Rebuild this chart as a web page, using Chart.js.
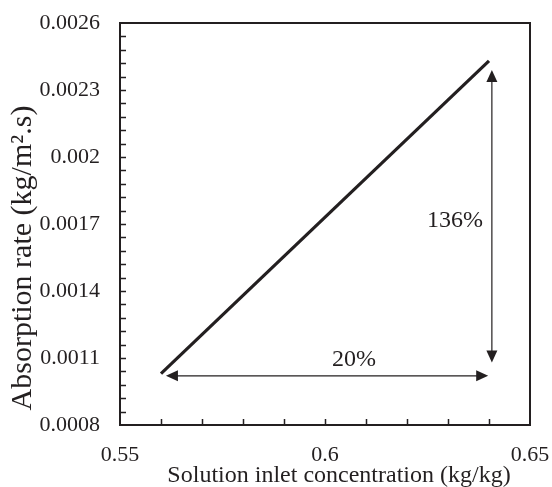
<!DOCTYPE html>
<html>
<head>
<meta charset="utf-8">
<script src="https://cdn.jsdelivr.net/npm/chart.js@4"></script>
<style>
  body { margin: 0; background: #fff; }
</style>
</head>
<body>
<canvas id="chart" width="552" height="487"></canvas>
<script>
// data
const concentration = [0.56, 0.64];
const absorptionRate = [0.00103, 0.00243];
const xTickValues = [0.55, 0.6, 0.65];
const yTickValues = [0.0008, 0.0011, 0.0014, 0.0017, 0.002, 0.0023, 0.0026];
// arrows and their labels (data coords, labels at baseline)
const hArrowX = [0.5612, 0.6398];
const hArrowY = 0.00102;
const vArrowX = 0.6407;
const vArrowY = [0.00108, 0.00239];
const hLabel = { text: '20%', x: 0.6071, y: 0.001064 };
const vLabel = { text: '136%', x: 0.6317, y: 0.001687 };

const ink = '#231f20';
const serif = '"Liberation Serif", "Times New Roman", serif';

function arrowHead(ctx, x, y, dx, dy) {
  // tip at (x,y), pointing along (dx,dy)
  const len = 12, half = 5.5;
  const px = -dy, py = dx;
  ctx.beginPath();
  ctx.moveTo(x, y);
  ctx.lineTo(x - dx * len + px * half, y - dy * len + py * half);
  ctx.lineTo(x - dx * len - px * half, y - dy * len - py * half);
  ctx.closePath();
  ctx.fill();
}

const decorations = {
  id: 'decorations',
  afterDraw(chart) {
    const ctx = chart.ctx;
    const xs = chart.scales.x, ys = chart.scales.y;
    const a = chart.chartArea;
    ctx.save();
    ctx.strokeStyle = ink;
    ctx.fillStyle = ink;

    // frame
    ctx.lineWidth = 2;
    ctx.strokeRect(a.left, a.top, a.right - a.left, a.bottom - a.top);

    // inside ticks
    ctx.lineWidth = 1.5;
    ctx.beginPath();
    for (let i = 1; i < 10; i++) {
      const px = Math.round(xs.getPixelForValue(0.55 + i * 0.01)) + 0.5;
      ctx.moveTo(px, a.bottom);
      ctx.lineTo(px, a.bottom - 6);
    }
    for (let i = 1; i < 30; i++) {
      const py = Math.round(ys.getPixelForValue(0.0008 + i * 0.00006)) + 0.5;
      ctx.moveTo(a.left, py);
      ctx.lineTo(a.left + 6, py);
    }
    ctx.stroke();

    // horizontal arrow
    const hx0 = xs.getPixelForValue(hArrowX[0]);
    const hx1 = xs.getPixelForValue(hArrowX[1]);
    const hy = ys.getPixelForValue(hArrowY);
    ctx.lineWidth = 1.2;
    ctx.beginPath();
    ctx.moveTo(hx0 + 8, hy);
    ctx.lineTo(hx1 - 8, hy);
    ctx.stroke();
    arrowHead(ctx, hx0, hy, -1, 0);
    arrowHead(ctx, hx1, hy, 1, 0);

    // vertical arrow
    const vx = xs.getPixelForValue(vArrowX);
    const vy0 = ys.getPixelForValue(vArrowY[0]);
    const vy1 = ys.getPixelForValue(vArrowY[1]);
    ctx.beginPath();
    ctx.moveTo(vx, vy0 - 8);
    ctx.lineTo(vx, vy1 + 8);
    ctx.stroke();
    arrowHead(ctx, vx, vy0, 0, 1);
    arrowHead(ctx, vx, vy1, 0, -1);

    // labels
    ctx.font = '24px ' + serif;
    ctx.textAlign = 'center';
    ctx.textBaseline = 'alphabetic';
    ctx.fillText(hLabel.text, xs.getPixelForValue(hLabel.x), ys.getPixelForValue(hLabel.y));
    ctx.fillText(vLabel.text, xs.getPixelForValue(vLabel.x), ys.getPixelForValue(vLabel.y));

    // axis titles
    ctx.fillText('Solution inlet concentration (kg/kg)', 339, 482);
    ctx.font = '30px ' + serif;
    ctx.translate(31, 258);
    ctx.rotate(-Math.PI / 2);
    ctx.fillText('Absorption rate (kg/m\u00b2.s)', 0, 0);
    ctx.restore();
  }
};

const noPad = s => { s.paddingLeft = 0; s.paddingRight = 0; s.paddingTop = 0; s.paddingBottom = 0; };

new Chart(document.getElementById('chart'), {
  type: 'line',
  data: {
    datasets: [{
      data: concentration.map((c, i) => ({ x: c, y: absorptionRate[i] })),
      borderColor: ink,
      borderWidth: 3.2,
      pointRadius: 0,
      fill: false,
      tension: 0
    }]
  },
  options: {
    responsive: false,
    animation: false,
    layout: { padding: { left: 0, right: 22, top: 23, bottom: 0 } },
    plugins: { legend: { display: false }, tooltip: { enabled: false } },
    scales: {
      x: {
        type: 'linear',
        min: 0.55,
        max: 0.65,
        afterBuildTicks: s => { s.ticks = xTickValues.map(v => ({ value: v })); },
        afterFit: s => { s.height = 62; noPad(s); },
        grid: { display: false, drawTicks: false },
        border: { display: false },
        ticks: {
          color: ink,
          font: { family: serif, size: 22 },
          padding: 17,
          maxRotation: 0,
          callback: v => String(Number(v.toFixed(2)))
        }
      },
      y: {
        min: 0.0008,
        max: 0.0026,
        afterBuildTicks: s => { s.ticks = yTickValues.map(v => ({ value: v })); },
        afterFit: s => { s.width = 120; noPad(s); },
        grid: { display: false, drawTicks: false },
        border: { display: false },
        ticks: {
          color: ink,
          font: { family: serif, size: 22 },
          padding: 20,
          callback: v => String(Number(v.toFixed(4)))
        }
      }
    }
  },
  plugins: [decorations]
});
</script>
</body>
</html>
